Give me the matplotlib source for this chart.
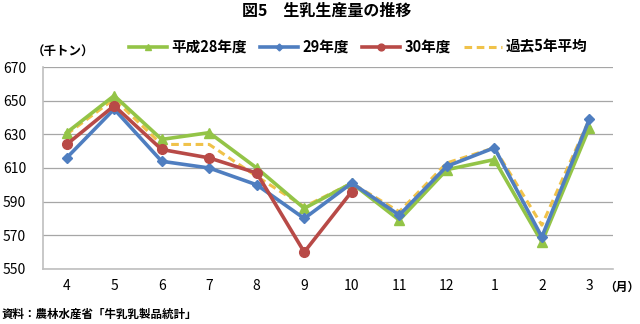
import matplotlib
matplotlib.use('Agg')
from matplotlib import pyplot as plt

plt.rcParams['font.family'] = ['Noto Sans CJK JP', 'DejaVu Sans']

months = ['4', '5', '6', '7', '8', '9', '10', '11', '12', '1', '2', '3']
h28 = [631, 653, 627, 631, 610, 586, 601, 579, 609, 615, 566, 634]
h29 = [616, 645, 614, 610, 600, 580, 601, 582, 611, 622, 569, 639]
h30 = [624, 647, 621, 616, 607, 560, 596]
avg5 = [630, 651, 624, 624, 605, 587, 601, 584, 613, 622, 576, 639]

green = '#93C447'
blue = '#4F7EC0'
red = '#B84A47'
yellow = '#F0C24A'

fig = plt.figure(figsize=(6.4, 3.24), dpi=100)
ax = fig.add_axes([0.067, 0.170, 0.891, 0.623])

x = list(range(len(months)))
ax.plot(x, avg5, color=yellow, lw=2.2, ls=(0, (2.5, 1.5)), label='過去5年平均', zorder=2)
ax.plot(x, h28, color=green, lw=2.6, marker='^', ms=7, label='平成28年度', zorder=3)
ax.plot(x, h29, color=blue, lw=2.6, marker='D', ms=5, label='29年度', zorder=4)
ax.plot(x[:len(h30)], h30, color=red, lw=2.6, marker='o', ms=7, label='30年度', zorder=5)

ax.set_xlim(-0.5, len(months) - 0.5)
ax.set_ylim(550, 670)
ax.set_yticks(range(550, 671, 20))
ax.set_xticks(x)
ax.set_xticklabels(months)
ax.tick_params(length=0, labelsize=10, pad=7)
ax.tick_params(axis='y', pad=12)
ax.yaxis.grid(True, color='#A6A6A6', lw=0.9)
ax.set_axisbelow(True)
for s in ['top', 'right']:
    ax.spines[s].set_visible(False)
for s in ['left', 'bottom']:
    ax.spines[s].set_color('#BFBFBF')
    ax.spines[s].set_linewidth(1.2)

handles, labels = ax.get_legend_handles_labels()
order = [1, 2, 3, 0]
fig.legend([handles[i] for i in order], [labels[i] for i in order],
           loc='center', bbox_to_anchor=(0.56, 0.855), ncol=4, frameon=False,
           handlelength=2.6, columnspacing=0.9, handletextpad=0.3, markerscale=0.7,
           prop={'weight': 'bold', 'size': 10.5})

fig.text(0.511, 0.967, '図5　生乳生産量の推移', ha='center', va='center', fontsize=11.5, weight='bold')
fig.text(0.05, 0.84, '（千トン）', ha='left', va='center', fontsize=9, weight='bold')
fig.text(0.999, 0.112, '（月）', ha='right', va='center', fontsize=8.5, weight='bold')
fig.text(0.002, 0.03, '資料：農林水産省「牛乳乳製品統計」', ha='left', va='center', fontsize=8.3, weight='bold')

fig.savefig('out.png', dpi=100)
